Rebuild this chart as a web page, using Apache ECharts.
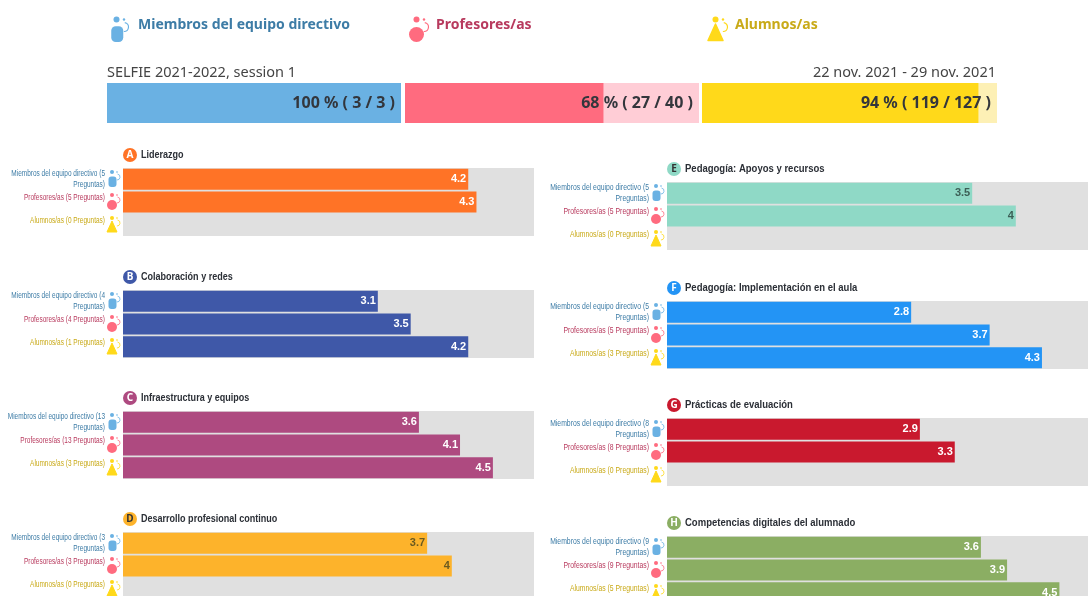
<!DOCTYPE html>
<html>
<head>
<meta charset="utf-8">
<title>SELFIE 2021-2022</title>
<script src="https://cdn.jsdelivr.net/npm/echarts@6/dist/echarts.min.js"></script>
<style>
  html, body { margin: 0; padding: 0; background: #fff; overflow: hidden; }
  #main { width: 1088px; height: 596px; }
</style>
</head>
<body>
<div id="main"></div>
<script>
// participacion
var roles = ["Miembros del equipo directivo", "Profesores/as", "Alumnos/as"];
var answered = [3, 27, 119];
var invited = [3, 40, 127];
var percents = [100, 68, 94];

// areas
var letters = ["A", "B", "C", "D", "E", "F", "G", "H"];
var areas = [
  "Liderazgo",
  "Colaboración y redes",
  "Infraestructura y equipos",
  "Desarrollo profesional continuo",
  "Pedagogía: Apoyos y recursos",
  "Pedagogía: Implementación en el aula",
  "Prácticas de evaluación",
  "Competencias digitales del alumnado"
];
var questions = [
  [5, 5, 0], [4, 4, 1], [13, 13, 3], [3, 3, 0],
  [5, 5, 0], [5, 5, 3], [8, 8, 0], [9, 9, 5]
];
var scores = [
  [4.2, 4.3, null], [3.1, 3.5, 4.2], [3.6, 4.1, 4.5], [3.7, 4, null],
  [3.5, 4, null], [2.8, 3.7, 4.3], [2.9, 3.3, null], [3.6, 3.9, 4.5]
];

// colores
var areaColors = ["#ff7326", "#3f58a8", "#ae4a80", "#fdb32b", "#8fd9c6", "#2394f5", "#c9192e", "#8bae63"];
var areaInk = ["#fff", "#fff", "#fff", "#6b5a20", "#3c5f56", "#fff", "#fff", "#fff"];
var badgeInk = ["#fff", "#fff", "#fff", "#333", "#333", "#fff", "#fff", "#fff"];
var roleDark = ["#6ab1e3", "#ff6b7f", "#ffd91a"];
var roleLight = ["#6ab1e3", "#ffcdd6", "#fdf0b5"];
var roleText = ["#3d7ca6", "#b83a5e", "#c9aa18"];

// layout
var topBars = [[107, 294], [405, 294], [702, 295]];
var panelTops = [168, 290, 411, 532, 182, 301, 418, 536];
var labelOffsets = [11.5, 30, 53];
var iconOffsets = [11, 34, 57];
var sans = "'Noto Sans', sans-serif";
var liberation = "'Liberation Sans', sans-serif";

var grids = [], xAxes = [], yAxes = [], series = [], graphics = [];

function roleIcon(kind, cx, cy, s) {
  var c = roleDark[kind];
  var parts = [
    { type: "circle", shape: { cx: cx - 1 * s, cy: cy - 7 * s, r: 2 * s }, style: { fill: c } },
    { type: "circle", shape: { cx: cx + 4 * s, cy: cy - 7 * s, r: 0.8 * s }, style: { fill: c } },
    { type: "arc", shape: { cx: cx + 4 * s, cy: cy - 2 * s, r: 3 * s, startAngle: -1.4, endAngle: 1.6 },
      style: { stroke: c, fill: null, lineWidth: 0.8 * s } }
  ];
  if (kind === 0) {
    parts.push({ type: "rect", shape: { x: cx - 4.5 * s, y: cy - 2.5 * s, width: 8 * s, height: 10.5 * s, r: 3 * s }, style: { fill: c } });
  } else if (kind === 1) {
    parts.push({ type: "circle", shape: { cx: cx - 1 * s, cy: cy + 3 * s, r: 5 * s }, style: { fill: c } });
  } else {
    parts.push({ type: "polygon", shape: { points: [[cx - 1 * s, cy - 4 * s], [cx + 4 * s, cy + 7 * s], [cx - 6 * s, cy + 7 * s]] },
      style: { fill: c, stroke: c, lineJoin: "round", lineWidth: 1 * s } });
  }
  return parts;
}

function pushGrid(left, top, width, height, bg, xMax, cats) {
  grids.push({ left: left, top: top, width: width, height: height, show: true, backgroundColor: bg, borderWidth: 0, outerBoundsMode: "none" });
  xAxes.push({ type: "value", gridIndex: grids.length - 1, min: 0, max: xMax, show: false });
  yAxes.push({
    type: "category", gridIndex: grids.length - 1, data: cats, inverse: true,
    axisLine: { show: false }, axisTick: { show: false }, splitLine: { show: false },
    axisLabel: { show: false }
  });
  return grids.length - 1;
}

// cabecera
var headerX = [138, 436, 735];
var iconX = [118, 418, 717];
roles.forEach(function (r, i) {
  graphics = graphics.concat(roleIcon(i, iconX[i], 30, 1.5));
  graphics.push({
    type: "text", x: headerX[i], y: 25,
    style: { text: r, fill: roleText[i], font: "bold 14px " + sans, textVerticalAlign: "middle" }
  });
  var g = pushGrid(topBars[i][0], 83, topBars[i][1], 40, roleLight[i], invited[i], ["x"]);
  series.push({
    type: "bar", xAxisIndex: g, yAxisIndex: g, data: [answered[i]], barWidth: 40, barGap: "-100%",
    itemStyle: { color: roleDark[i] }, silent: true
  });
  series.push({
    type: "bar", xAxisIndex: g, yAxisIndex: g, data: [invited[i]], barWidth: 40, barGap: "-100%",
    itemStyle: { color: "transparent" }, silent: true,
    label: {
      show: true, position: "insideRight", distance: 6, color: "#33363c",
      fontFamily: sans, fontWeight: "bold", fontSize: 16,
      formatter: percents[i] + " % ( " + answered[i] + " / " + invited[i] + " )"
    }
  });
});
graphics.push({ type: "text", x: 107, y: 73, style: { text: "SELFIE 2021-2022, session 1", fill: "#444", font: "14.5px " + sans, textVerticalAlign: "middle" } });
graphics.push({ type: "text", x: 996, y: 73, style: { text: "22 nov. 2021 - 29 nov. 2021", fill: "#444", font: "14.5px " + sans, textAlign: "right", textVerticalAlign: "middle" } });

// paneles
areas.forEach(function (name, a) {
  var isLeft = a < 4;
  var left = isLeft ? 123 : 667;
  var width = isLeft ? 411 : 436;
  var top = panelTops[a];
  var cats = roles.map(function (r, i) {
    var t = r + " (" + questions[a][i] + " Preguntas)";
    return i === 0 ? t.replace(" Preguntas", "\nPreguntas") : t;
  });
  var g = pushGrid(left, top, width, 68, "#e0e0e0", 5, cats);
  series.push({
    type: "bar", xAxisIndex: g, yAxisIndex: g, data: scores[a], barWidth: 21,
    itemStyle: { color: areaColors[a] }, silent: true,
    label: {
      show: true, position: "insideRight", distance: 2, color: areaInk[a],
      fontFamily: liberation, fontWeight: "bold", fontSize: 11
    }
  });
  graphics.push({ type: "circle", shape: { cx: left + 7, cy: top - 13, r: 7 }, style: { fill: areaColors[a] } });
  graphics.push({
    type: "text", x: left + 7, y: top - 13,
    style: { text: letters[a], fill: badgeInk[a], font: "bold 10px " + sans, textAlign: "center", textVerticalAlign: "middle" }
  });
  graphics.push({
    type: "text", x: left + 18, y: top - 13, scaleX: isLeft ? 0.82 : 0.865,
    style: { text: name, fill: "#2b2f36", font: "bold 11px " + liberation, textVerticalAlign: "middle" }
  });
  cats.forEach(function (t, i) {
    graphics = graphics.concat(roleIcon(i, left - 10, top + iconOffsets[i], 1));
    // no hay fuente estrecha instalada, se comprime el texto a mano
    graphics.push({
      type: "text", x: left - 18, y: top + labelOffsets[i], scaleX: isLeft ? 0.72 : 0.76,
      style: { text: t, fill: roleText[i], font: "9px " + liberation, lineHeight: 11, textAlign: "right", textVerticalAlign: "middle" }
    });
  });
});

var chart = echarts.init(document.getElementById("main"));
chart.setOption({
  animation: false,
  grid: grids,
  xAxis: xAxes,
  yAxis: yAxes,
  series: series,
  graphic: { elements: graphics }
});
</script>
</body>
</html>
